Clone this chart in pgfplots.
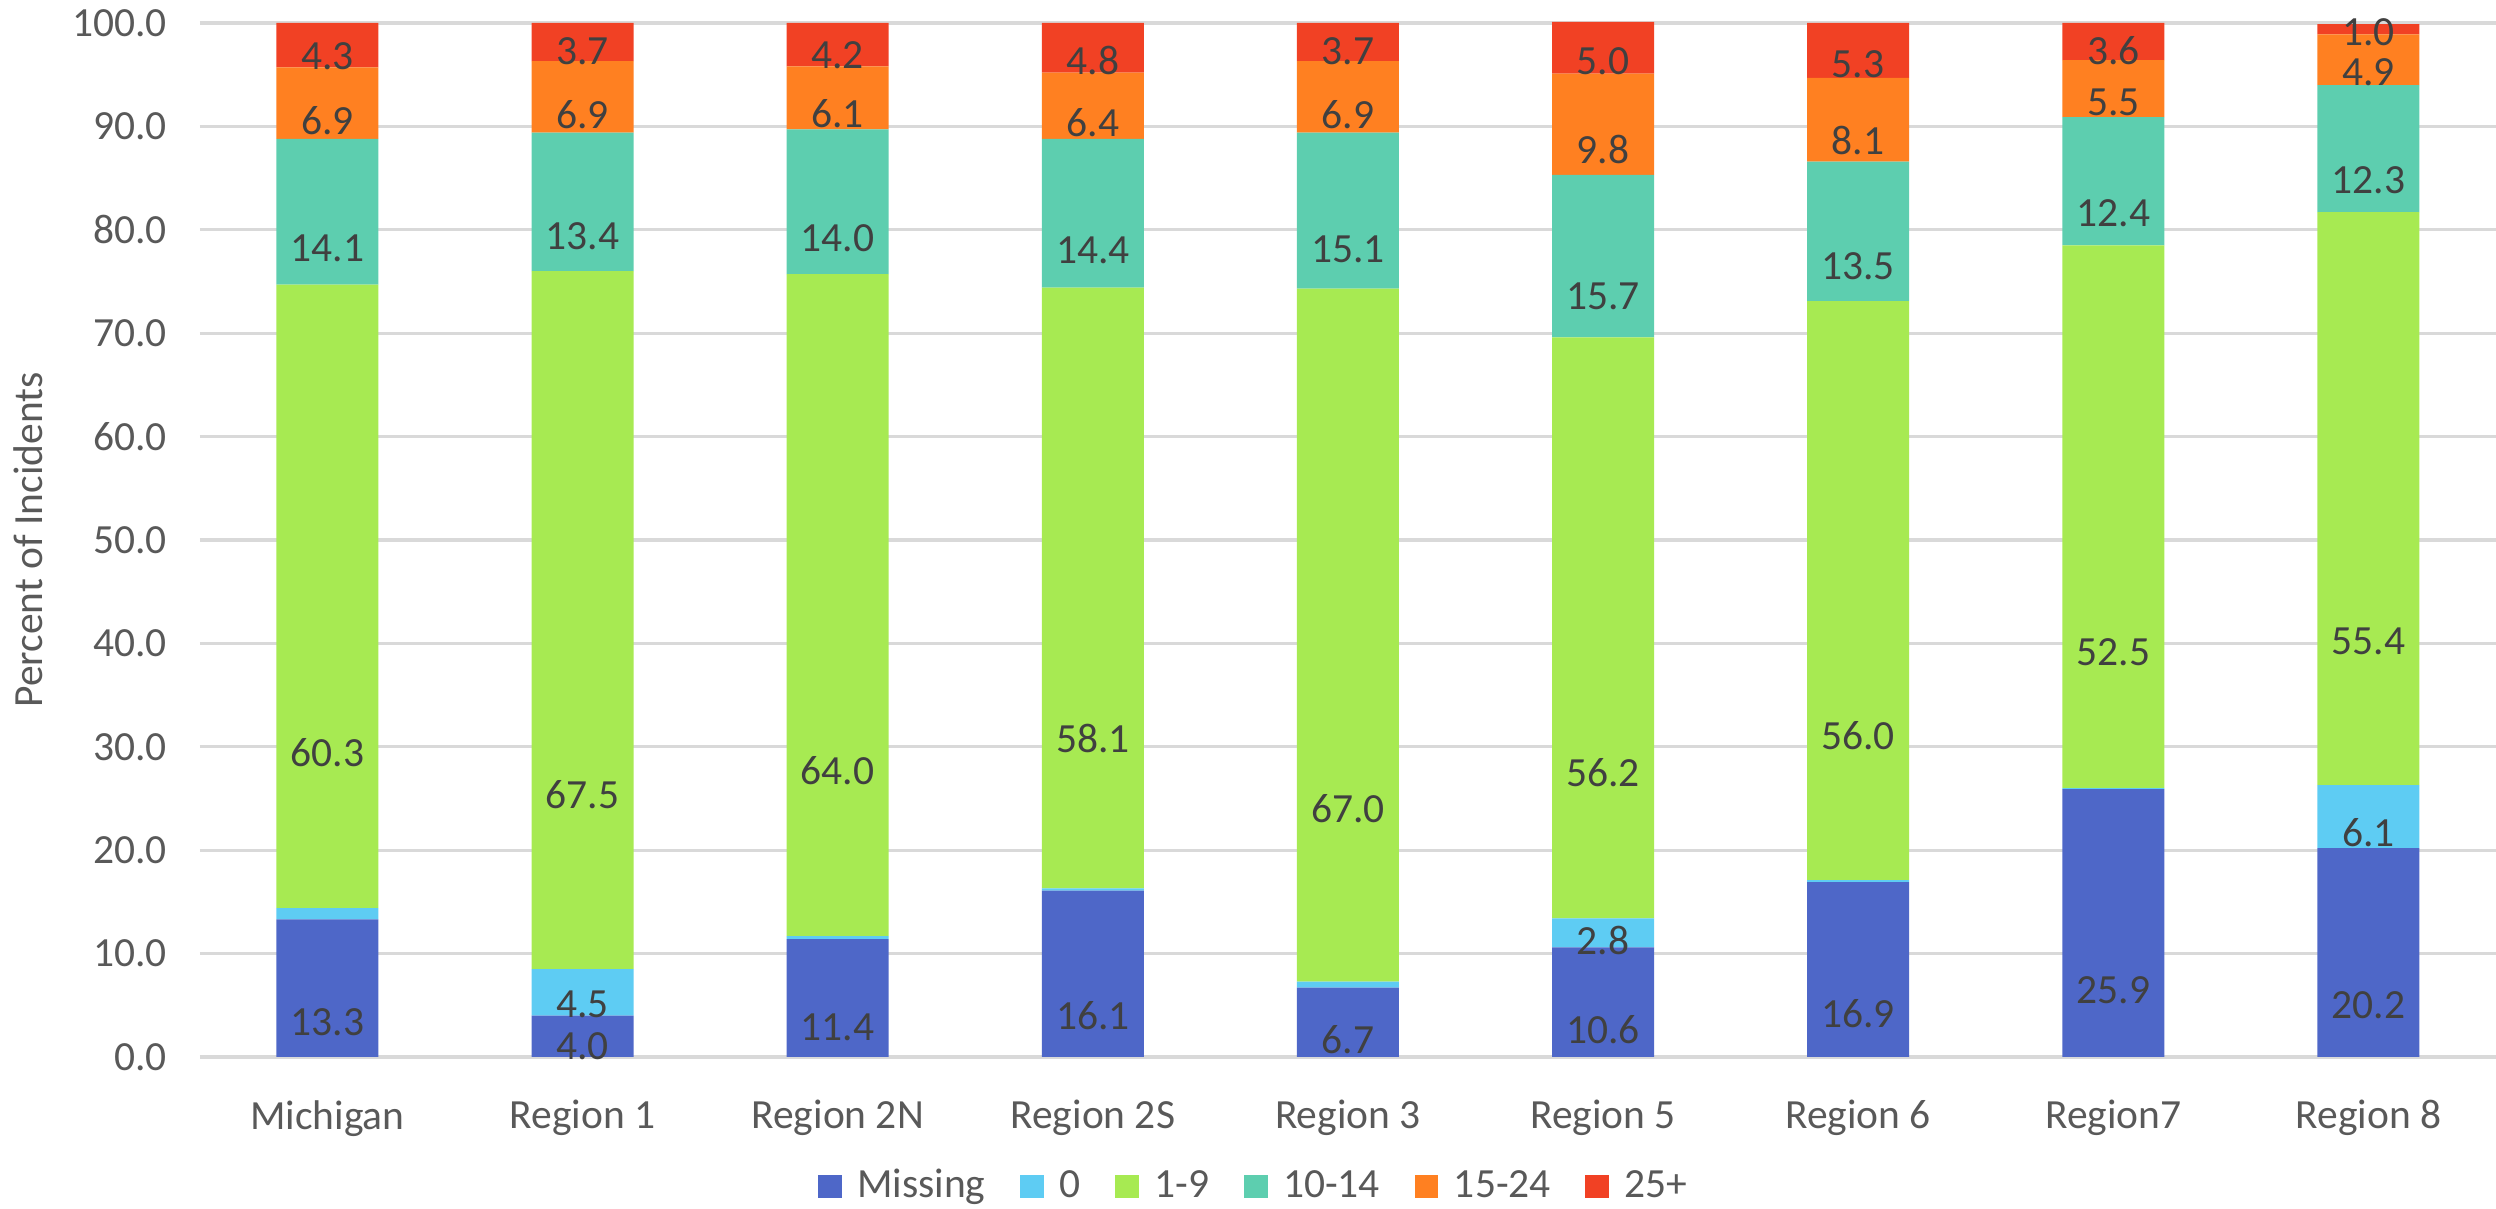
\documentclass[border=0pt]{standalone}
\usepackage{fontspec}
\setmainfont{Carlito}
\usepackage{pgfplots}
\usepackage{pgfplotstable}
\pgfplotsset{compat=1.18}

\definecolor{cMissing}{HTML}{4E67C8}
\definecolor{cZero}{HTML}{5ECCF3}
\definecolor{cOneNine}{HTML}{A7EA52}
\definecolor{cTen}{HTML}{5DCEAF}
\definecolor{cFifteen}{HTML}{FF8021}
\definecolor{cTwentyFive}{HTML}{F14124}
\definecolor{gridc}{HTML}{D9D9D9}
\definecolor{ticktxt}{HTML}{595959}
\definecolor{lbltxt}{HTML}{404040}

% percent of incidents by category, one row per region
\pgfplotstableread{
x missing zero onenine ten fifteen twentyfive
0 13.3 1.1 60.3 14.1 6.9 4.3
1 4.0 4.5 67.5 13.4 6.9 3.7
2 11.4 0.3 64.0 14.0 6.1 4.2
3 16.1 0.2 58.1 14.4 6.4 4.8
4 6.7 0.6 67.0 15.1 6.9 3.7
5 10.6 2.8 56.2 15.7 9.8 5.0
6 16.9 0.2 56.0 13.5 8.1 5.3
7 25.9 0.1 52.5 12.4 5.5 3.6
8 20.2 6.1 55.4 12.3 4.9 1.0
}\datatable

\pgfplotsset{
  seg/.style={fill=#1, draw=none,
    legend image code/.code={\fill[#1] (0pt,-3.4pt) rectangle (6.9pt,3.4pt);}},
}

\begin{document}
\begin{tikzpicture}
\begin{axis}[
    at={(0,0)}, anchor=south west,
    x=73.8pt, y=2.991pt,
    xmin=-0.5, xmax=8.5,
    ymin=0, ymax=100,
    clip=false,
    ybar stacked,
    bar width=29.5pt,
    axis line style={draw=none},
    major tick length=0pt,
    ymajorgrids,
    major grid style={draw=gridc, line width=0.9pt},
    ytick={0,10,...,100},
    xtick={0,...,8},
    xticklabels={Michigan, Region 1, Region 2N, Region 2S, Region 3, Region 5, Region 6, Region7, Region 8},
    /pgf/number format/assume math mode=true,
    tick label style={font=\fontsize{12}{14}\selectfont, text=ticktxt},
    yticklabel style={/pgf/number format/.cd, fixed, fixed zerofill, precision=1, /tikz/.cd, xshift=-6pt},
    xticklabel style={yshift=-9pt},
    ylabel={Percent of Incidents},
    ylabel style={at={(axis description cs:0,0.5)}, anchor=center, yshift=49.5pt,
      font=\fontsize{12}{14}\selectfont, text=ticktxt},
    visualization depends on={rawy \as \rawy},
    nodes near coords={\pgfmathprintnumber[fixed,fixed zerofill,precision=1]{\rawy}},
    every node near coord/.append style={anchor=center, yshift=-\rawy*0.74775pt,
      font=\fontsize{12}{14}\selectfont, text=lbltxt},
    legend columns=-1,
    legend style={at={(0.46,0)}, anchor=center, yshift=-37.4pt, draw=none,
      font=\fontsize{12}{14}\selectfont, text=ticktxt,
      /tikz/every odd column/.append style={column sep=2.5pt},
      /tikz/every even column/.append style={column sep=8pt}},
]
\addplot[seg=cMissing] table[x=x, y=missing] {\datatable};
\addplot[seg=cZero, nodes near coords={\ifdim\rawy pt>2pt\pgfmathprintnumber[fixed,fixed zerofill,precision=1]{\rawy}\fi}] table[x=x, y=zero] {\datatable};
\addplot[seg=cOneNine] table[x=x, y=onenine] {\datatable};
\addplot[seg=cTen] table[x=x, y=ten] {\datatable};
\addplot[seg=cFifteen] table[x=x, y=fifteen] {\datatable};
\addplot[seg=cTwentyFive] table[x=x, y=twentyfive] {\datatable};
\legend{Missing, 0, 1-9, 10-14, 15-24, 25+}
\end{axis}
\pgfresetboundingbox
\path[use as bounding box] (-57.8pt,-43.8pt) rectangle (664.2pt,305.75pt);
\end{tikzpicture}
\end{document}
